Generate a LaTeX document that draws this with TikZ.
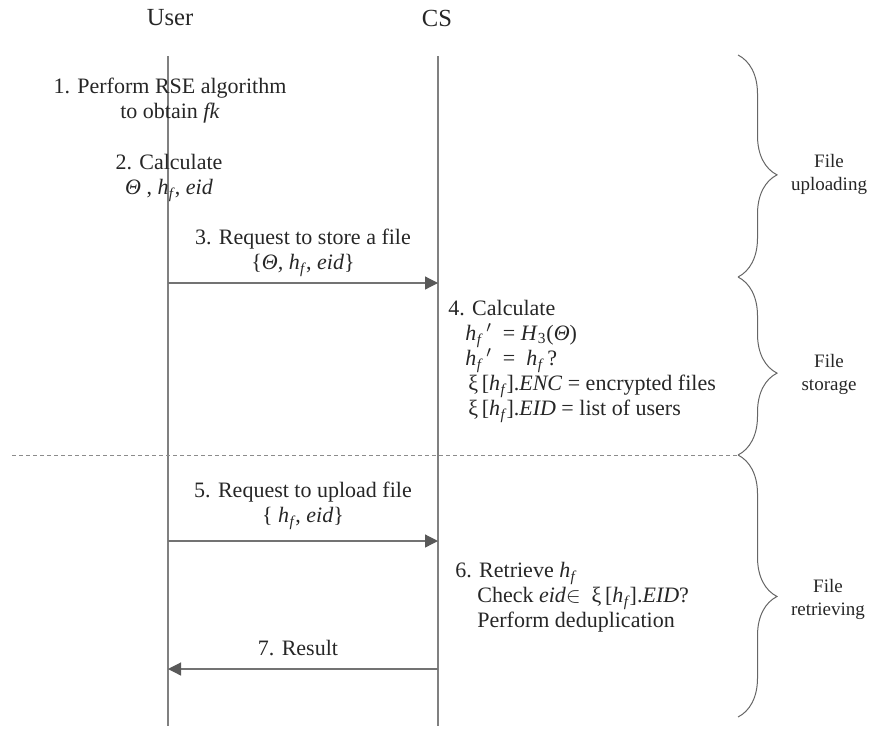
\documentclass[tikz,border=0pt]{standalone}
\usepackage{fontspec}
\setmainfont{Liberation Serif}
\usetikzlibrary{decorations.pathreplacing,arrows.meta}

\newcommand{\hf}{\textit{h}\kern0.2pt\raisebox{-0.4ex}{\fontsize{7.5}{8}\selectfont\textit{f}}}

\begin{document}
\begin{tikzpicture}[x=0.5pt,y=-0.5pt,
	every node/.style={font=\fontsize{11}{12.5}\selectfont, text=black!85, inner sep=0pt},
	actor/.style={font=\fontsize{12.3}{14}\selectfont},
	life/.style={draw=black!50, line width=0.6pt},
	msg/.style={draw=black!55, line width=0.6pt, -{Triangle[length=6.5pt,width=6.5pt,color=black!65]}},
	brc/.style={draw=black!60, line width=0.5pt, decorate, decoration={brace,amplitude=19.5pt,aspect=0.54}},
	sep/.style={draw=black!45, line width=0.5pt, dash pattern=on 2pt off 1.5pt},
	phase/.style={align=center, font=\fontsize{9.5}{11.5}\selectfont}]
	\useasboundingbox (0,0) rectangle (870,728);
	
	% lifelines
	\node[actor] (user) at (170,18) {User};
	\node[actor] (cs) at (437,18) {CS};
	\coordinate (utop) at (168,56);
	\coordinate (ubot) at (168,726);
	\coordinate (ctop) at (438,56);
	\coordinate (cbot) at (438,726);
	\draw[life] (utop) -- (ubot);
	\draw[life] (ctop) -- (cbot);
	
	% user side
	\node[align=center] (s1) at (170,101) {1. Perform RSE algorithm\\to obtain \textit{fk}};
	\node[align=center] (s2) at (169,178) {2. Calculate\\\textit{Θ} , \hf, \textit{eid}};
	
	% store request
	\coordinate (u1) at (168,283);
	\coordinate (c1) at (438,283);
	\node[align=center] (s3) at (303,253) {3. Request to store a file\\\{\textit{Θ,} \hf, \textit{eid}\}};
	\draw[msg] (u1) -- (c1);
	
	\node[align=left, anchor=north west] (s4) at (448,300) {4. Calculate\\
		\hspace*{8.5pt}\hf\,$'$\ \ = \textit{H}\textsubscript{3}(\textit{Θ})\\
		\hspace*{8.5pt}\hf\,$'$\ \ =\ \ \hf\,?\\
		\hspace*{10pt}ξ\,[\hf].\textit{ENC} = encrypted files\\
		\hspace*{10pt}ξ\,[\hf].\textit{EID} = list of users};
	
	% braces
	\coordinate (b0) at (738,55);
	\coordinate (b1) at (738,277);
	\coordinate (b2) at (738,455);
	\coordinate (b3) at (738,717);
	\draw[brc] (b0) -- (b1);
	\draw[brc] (b1) -- (b2);
	\draw[brc] (b2) -- (b3);
	\node[phase] (p1) at (829,174) {File\\uploading};
	\node[phase] (p2) at (829,374) {File\\storage};
	\node[phase] (p3) at (828,599) {File\\retrieving};
	
	\coordinate (left) at (12,455);
	\draw[sep] (left) -- (b2);
	
	% upload request
	\coordinate (u2) at (168,541);
	\coordinate (c2) at (438,541);
	\node[align=center] (s5) at (303,506) {5. Request to upload file\\\{ \hf, \textit{eid}\}};
	\draw[msg] (u2) -- (c2);
	
	\node[align=left, anchor=north west] (s6) at (455,562) {6. Retrieve \hf\\
		\hspace*{11pt}Check \textit{eid}$\in$\ \ ξ\,[\hf].\textit{EID}?\\
		\hspace*{11pt}Perform deduplication};
	
	% result
	\coordinate (c3) at (438,669);
	\coordinate (u3) at (168,669);
	\node (s7) at (298,648) {7. Result};
	\draw[msg] (c3) -- (u3);
\end{tikzpicture}
\end{document}
